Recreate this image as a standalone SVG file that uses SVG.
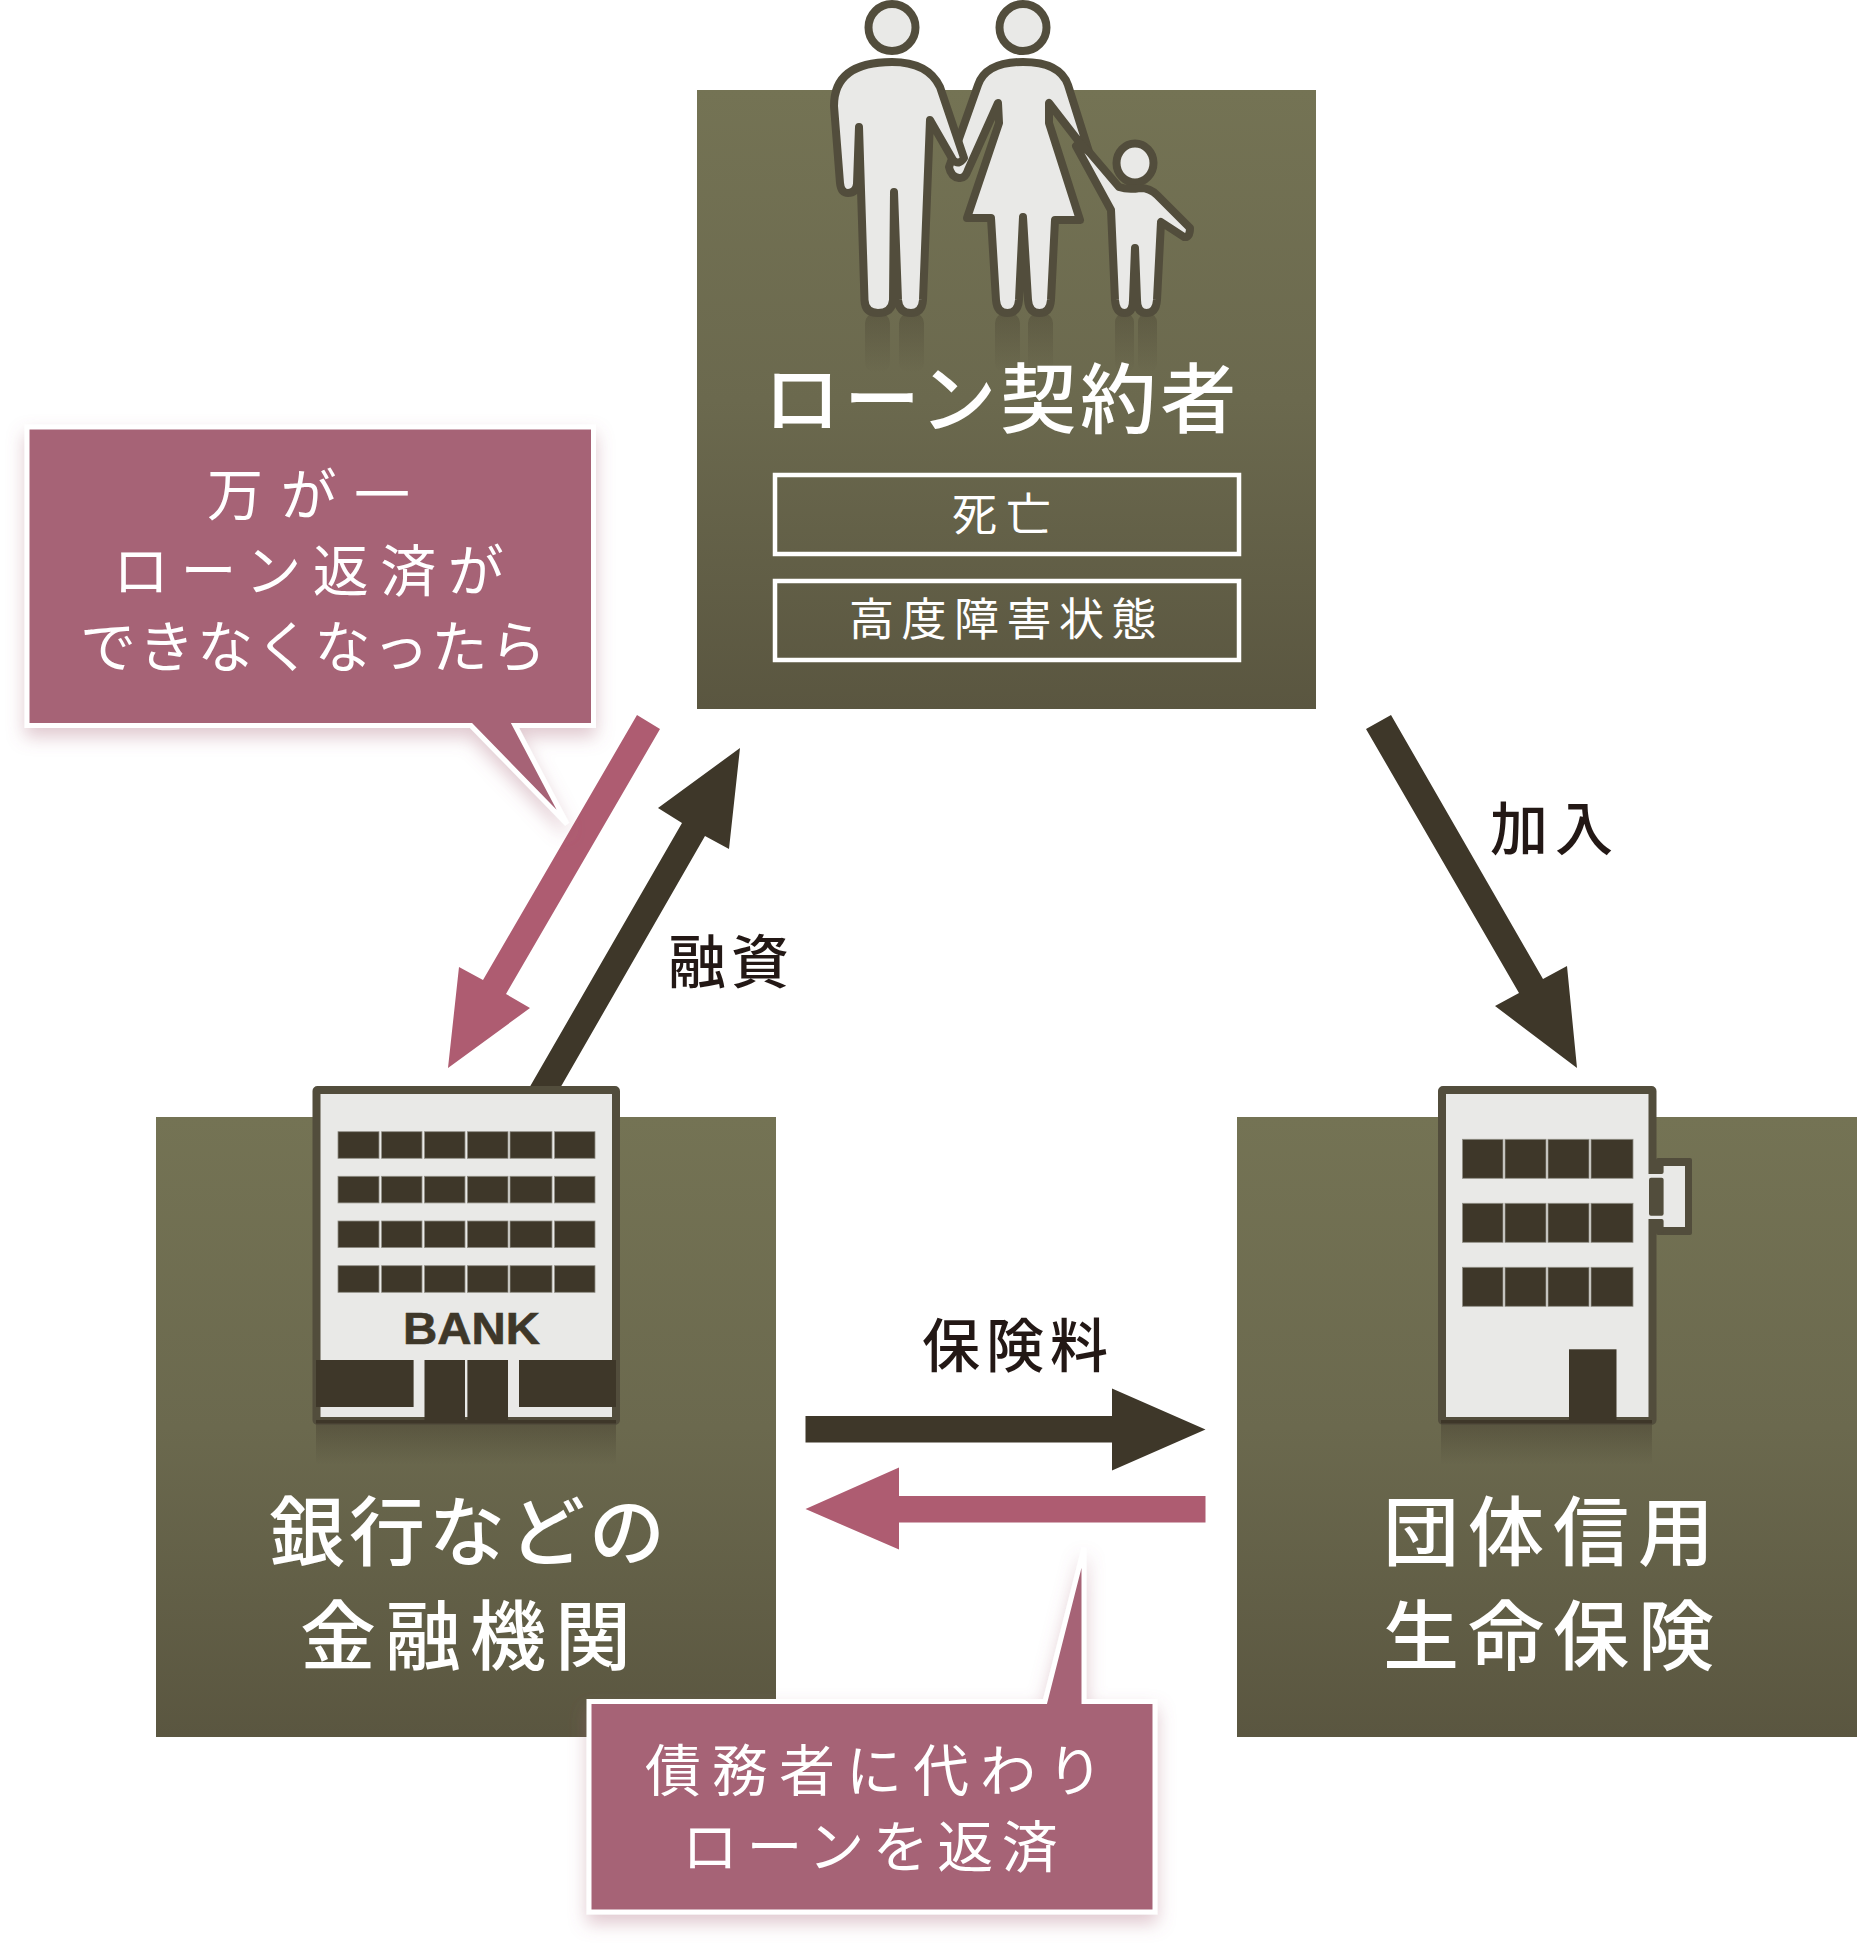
<svg xmlns="http://www.w3.org/2000/svg" width="1857" height="1953" viewBox="0 0 1857 1953">
<style>
text{font-family:"Noto Sans CJK JP","Noto Sans CJK SC",sans-serif}
.nt{fill:#fff;font-size:76px;font-weight:500}
.st{fill:#fff;font-size:45px;font-weight:400}
.bt{fill:#fff;font-size:56px;font-weight:400}
.lb{fill:#231815;font-size:58px;font-weight:500}
.box{fill:url(#boxg)}
.fig{fill:#e9e9e7;stroke:#524d3c;stroke-width:8;stroke-linejoin:round}
.bld{fill:#e9e9e7;stroke:#524d3c;stroke-width:8;stroke-linejoin:round}
.dk{fill:#3e3729}
.win{fill:#3e3729;stroke:#8f8d84;stroke-width:.8}
.bub{fill:#a66376;stroke:#fff;stroke-width:5;filter:url(#bs)}
.frame{fill:none;stroke:#fff;stroke-width:4.5}
</style>
<defs>
<linearGradient id="boxg" x1="0" y1="0" x2="0" y2="1"><stop offset="0" stop-color="#747354"/><stop offset=".5" stop-color="#6b694e"/><stop offset="1" stop-color="#5a5640"/></linearGradient>
<linearGradient id="refl" x1="0" y1="0" x2="0" y2="1"><stop offset="0" stop-color="#3e3729" stop-opacity=".32"/><stop offset="1" stop-color="#3e3729" stop-opacity="0"/></linearGradient>
<linearGradient id="refs" x1="0" y1="0" x2="0" y2="1"><stop offset="0" stop-color="#3e3729" stop-opacity=".4"/><stop offset="1" stop-color="#3e3729" stop-opacity="0"/></linearGradient>
<filter id="bs" x="-15%" y="-15%" width="130%" height="135%"><feDropShadow dx="0" dy="9" stdDeviation="9" flood-color="#a66376" flood-opacity=".35"/></filter>
</defs>
<rect width="1857" height="1953" fill="#fff"/>

<g id="connectors">
<polygon fill="#ae5c71" points="637,715 660,729 506,994 530,1008 448,1068 459,967 483,980"/>
<polygon class="dk" points="528,1090 559,1090 705,836 729,849 740,748 658,808 682,823"/>
<polygon class="dk" points="1366,729 1391,715 1543,979 1567,966 1577,1068 1495,1006 1519,993"/>
<polygon class="dk" points="805.500,1416 1112,1416 1112,1388.500 1205.500,1429.500 1112,1470.500 1112,1442.600 805.500,1442.600"/>
<polygon fill="#ae5c71" points="1205.500,1496 899,1496 899,1467.600 805.500,1509 899,1549.600 899,1522.600 1205.500,1522.600"/>
</g>

<g id="node-borrower">
<rect class="box" x="697" y="90" width="619" height="619"/>
<g fill="url(#refl)">
<rect x="865" y="313" width="25" height="60" rx="10"/><rect x="899" y="313" width="25" height="60" rx="10"/>
<rect x="995" y="313" width="25" height="60" rx="10"/><rect x="1028" y="313" width="25" height="60" rx="10"/>
<rect x="1115" y="313" width="19" height="60" rx="9"/><rect x="1138" y="313" width="19" height="60" rx="9"/>
</g>
<ellipse class="fig" cx="892" cy="27.500" rx="23.500" ry="23.500"/>
<ellipse class="fig" cx="1023" cy="27.500" rx="23.500" ry="23.500"/>
<ellipse class="fig" cx="1135" cy="163" rx="18.500" ry="19.500"/>
<path class="fig" d="M1023,62 Q1060,62 1068,85 L1090,155 L1080,143 L1049,103 L1049,123 L1080,220 L1055,220 L1051,300 Q1050,313 1039.500,313 Q1029,313 1028,300 L1023,217 L1019,300 Q1018,313 1007.500,313 Q997,313 996,300 L991,218 L967,218 L999,123 L998,103 L968,170 Q965,179 959,178 Q951,177 949,167 L978,85 Q986,62 1023,62 Z"/>
<path class="fig" d="M1080,143 L1090,153 L1119,187 Q1128,190 1140,188 Q1150,188 1157,195 L1190,228 Q1190,238 1184,237 L1161,222 L1157,300 Q1156,313 1146.500,313 Q1137,313 1137,300 L1135,248 L1133,300 Q1133,313 1124.500,313 Q1116,313 1115,300 L1111,210 L1076,146 Z"/>
<path class="fig" d="M892,62 Q834,62 834,106 L840,183 Q841,193 848,193 Q856,193 857,184 L859,127 L864.500,300 Q865,313 878,313 Q892,313 893,300 L894,192 L898,300 Q899,313 911,313 Q922,313 923,300 L930,120 L953,160 Q959,166 964,158 L940,87 Q928,62 892,62 Z"/>
<text class="nt" x="764" y="427" style="letter-spacing:4px">ローン契約者</text>
<rect class="frame" x="775" y="475" width="464" height="79"/>
<rect class="frame" x="775" y="581" width="464" height="79"/>
<text class="st" x="952" y="531" style="letter-spacing:9px">死亡</text>
<text class="st" x="849" y="636" style="letter-spacing:7.500px">高度障害状態</text>
</g>

<g id="node-bank">
<rect class="box" x="156" y="1117" width="620" height="620"/>
<rect x="316" y="1423" width="300" height="42" fill="url(#refs)"/>
<rect class="bld" x="316.500" y="1090" width="299.500" height="331" rx="1"/>
<g id="bank-windows">
<g class="win"><rect x="338" y="1131.700" width="41" height="26.600"/><rect x="381.600" y="1131.700" width="40.400" height="26.600"/><rect x="424.500" y="1131.700" width="40.500" height="26.600"/><rect x="467.400" y="1131.700" width="40.600" height="26.600"/><rect x="510" y="1131.700" width="42" height="26.600"/><rect x="554.600" y="1131.700" width="40.400" height="26.600"/></g>
<g class="win"><rect x="338" y="1176.300" width="41" height="26.600"/><rect x="381.600" y="1176.300" width="40.400" height="26.600"/><rect x="424.500" y="1176.300" width="40.500" height="26.600"/><rect x="467.400" y="1176.300" width="40.600" height="26.600"/><rect x="510" y="1176.300" width="42" height="26.600"/><rect x="554.600" y="1176.300" width="40.400" height="26.600"/></g>
<g class="win"><rect x="338" y="1221" width="41" height="26.600"/><rect x="381.600" y="1221" width="40.400" height="26.600"/><rect x="424.500" y="1221" width="40.500" height="26.600"/><rect x="467.400" y="1221" width="40.600" height="26.600"/><rect x="510" y="1221" width="42" height="26.600"/><rect x="554.600" y="1221" width="40.400" height="26.600"/></g>
<g class="win"><rect x="338" y="1265.700" width="41" height="26.600"/><rect x="381.600" y="1265.700" width="40.400" height="26.600"/><rect x="424.500" y="1265.700" width="40.500" height="26.600"/><rect x="467.400" y="1265.700" width="40.600" height="26.600"/><rect x="510" y="1265.700" width="42" height="26.600"/><rect x="554.600" y="1265.700" width="40.400" height="26.600"/></g>
</g>
<text x="403" y="1344" font-size="44" font-weight="700" fill="#3e3729" stroke="#3e3729" stroke-width=".6" style="font-family:'Liberation Sans',sans-serif" textLength="137" lengthAdjust="spacingAndGlyphs">BANK</text>
<rect class="dk" x="316" y="1360" width="97.600" height="47"/>
<rect class="dk" x="519" y="1360" width="97" height="47"/>
<rect class="dk" x="424.500" y="1360" width="40.500" height="61"/>
<rect class="dk" x="467.400" y="1360" width="40.600" height="61"/>
<rect x="316" y="1420" width="300" height="3.500" fill="#3e3729"/>
<text class="nt" x="269" y="1560" style="letter-spacing:4px">銀行などの</text>
<text class="nt" x="300" y="1664" style="letter-spacing:9px">金融機関</text>
</g>

<g id="node-insurance">
<rect class="box" x="1237" y="1117" width="620" height="620"/>
<rect x="1441" y="1423" width="211" height="42" fill="url(#refs)"/>
<rect x="1656" y="1158" width="36" height="77" rx="2" fill="#524d3c"/>
<rect x="1649" y="1166" width="36" height="61" fill="#e9e9e7"/>
<rect class="bld" x="1442" y="1090" width="210.500" height="331" rx="1"/>
<rect x="1648" y="1174" width="36" height="45" fill="#e9e9e7"/>
<rect x="1649" y="1177.700" width="14.600" height="38" rx="2" fill="#524d3c"/>
<rect x="1649" y="1160" width="14.600" height="14" rx="2" fill="#524d3c"/>
<rect x="1649" y="1219" width="14.600" height="14" rx="2" fill="#524d3c"/>
<g class="win"><rect x="1462.500" y="1139.300" width="40.500" height="39"/><rect x="1505" y="1139.300" width="41" height="39"/><rect x="1548" y="1139.300" width="41" height="39"/><rect x="1591" y="1139.300" width="42" height="39"/></g>
<g class="win"><rect x="1462.500" y="1203.300" width="40.500" height="39"/><rect x="1505" y="1203.300" width="41" height="39"/><rect x="1548" y="1203.300" width="41" height="39"/><rect x="1591" y="1203.300" width="42" height="39"/></g>
<g class="win"><rect x="1462.500" y="1267.300" width="40.500" height="39"/><rect x="1505" y="1267.300" width="41" height="39"/><rect x="1548" y="1267.300" width="41" height="39"/><rect x="1591" y="1267.300" width="42" height="39"/></g>
<rect class="dk" x="1569" y="1349.300" width="47.500" height="71.500"/>
<rect x="1441" y="1420" width="211" height="3.500" fill="#3e3729"/>
<text class="nt" x="1383" y="1560" style="letter-spacing:9px">団体信用</text>
<text class="nt" x="1383" y="1664" style="letter-spacing:9px">生命保険</text>
</g>

<g id="callout-1">
<path class="bub" d="M27,427 H593.500 V725.500 H515 L567,824 L471,725.500 H27 Z"/>
<text class="bt" x="207" y="515" style="letter-spacing:17.500px">万が一</text>
<text class="bt" x="113" y="591" style="letter-spacing:11.500px">ローン返済が</text>
<text class="bt" x="80" y="667" style="letter-spacing:2.600px">できなくなったら</text>
</g>

<g id="callout-2">
<path class="bub" d="M589,1701.500 H1045 L1084,1548 V1701.500 H1155 V1912 H589 Z"/>
<text class="bt" x="645" y="1791" style="letter-spacing:11px">債務者に代わり</text>
<text class="bt" x="682" y="1867" style="letter-spacing:8.500px">ローンを返済</text>
</g>

<g id="labels">
<text class="lb" x="1490" y="850" style="letter-spacing:7px">加入</text>
<text class="lb" x="668" y="983" style="letter-spacing:5px">融資</text>
<text class="lb" x="922" y="1367" style="letter-spacing:6px">保険料</text>
</g>
</svg>
